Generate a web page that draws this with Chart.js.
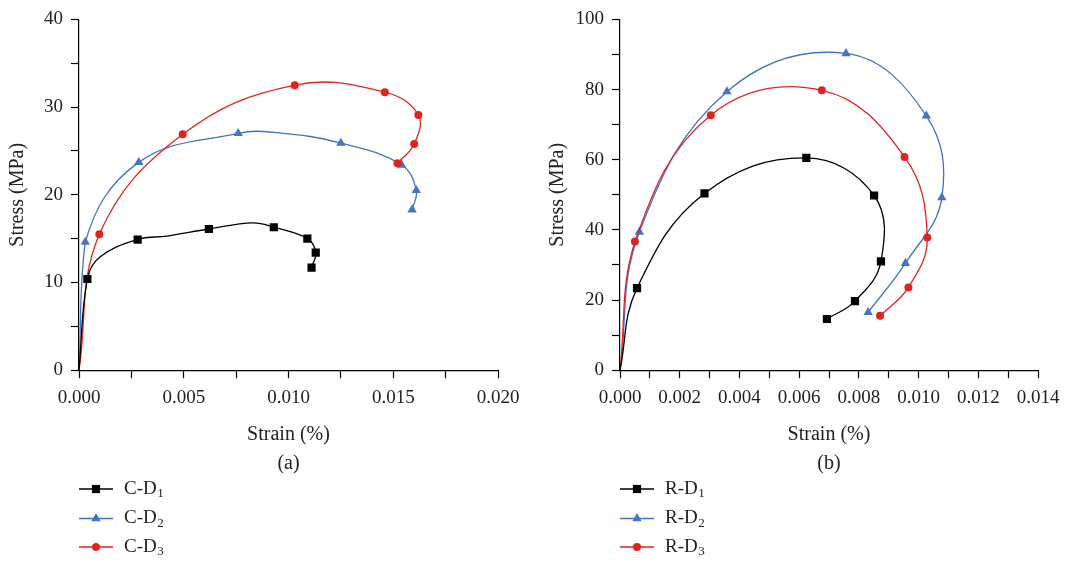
<!DOCTYPE html>
<html>
<head>
<meta charset="utf-8">
<script src="https://cdn.jsdelivr.net/npm/chart.js@4.4.1/dist/chart.umd.min.js"></script>
<style>
  body { margin: 0; background: #fff; }
  .panel { position: absolute; top: 0; height: 562px; }
  #wrapA { left: 0; width: 540px; }
  #wrapB { left: 540px; width: 543px; }
</style>
</head>
<body>
<div class="panel" id="wrapA"><canvas id="chartA"></canvas></div>
<div class="panel" id="wrapB"><canvas id="chartB"></canvas></div>
<script>
// ---- DATA (a) ----
const cd1Strain = [0, 0.0004, 0.001, 0.0028, 0.0042, 0.0062, 0.0083, 0.0093, 0.0109, 0.0113, 0.0111];
const cd1Stress = [0, 10.4, 12.9, 14.9, 15.3, 16.1, 16.8, 16.3, 15.0, 13.4, 11.7];
const cd1Unmarked = [0, 2, 4, 6];

const cd2Strain = [0, 0.0003, 0.00285, 0.0076, 0.0094, 0.0125, 0.0154, 0.0161, 0.0159];
const cd2Stress = [0, 14.6, 23.7, 27.0, 27.1, 25.9, 23.4, 20.5, 18.3];
const cd2Unmarked = [0, 4];

const cd3Strain = [0, 0.00097, 0.00495, 0.0103, 0.0146, 0.0162, 0.0160, 0.0152];
const cd3Stress = [0, 15.5, 26.9, 32.5, 31.7, 29.1, 25.8, 23.6];
const cd3Unmarked = [0];

// ---- DATA (b) ----
const rd1Strain = [0, 0.00057, 0.00283, 0.00624, 0.00851, 0.00874, 0.00787, 0.00693];
const rd1Stress = [0, 23.4, 50.4, 60.5, 49.8, 31.0, 19.7, 14.6];
const rd1Unmarked = [0];

const rd2Strain = [0, 0.00065, 0.00358, 0.00757, 0.01026, 0.01078, 0.00956, 0.00831];
const rd2Stress = [0, 39.4, 79.4, 90.3, 72.5, 49.2, 30.5, 16.5];
const rd2Unmarked = [0];

const rd3Strain = [0, 0.0005, 0.00304, 0.00676, 0.00953, 0.01029, 0.00966, 0.00871];
const rd3Stress = [0, 36.7, 72.7, 79.8, 60.8, 37.8, 23.6, 15.5];
const rd3Unmarked = [0];

const namesA = ['C-D1', 'C-D2', 'C-D3'];
const namesB = ['R-D1', 'R-D2', 'R-D3'];

const xTicksA = { max: 0.02, step: 0.0025, labelEvery: 0.005 };
const yTicksA = { max: 40, step: 5, labelEvery: 10 };
const xTicksB = { max: 0.014, step: 0.001, labelEvery: 0.002 };
const yTicksB = { max: 100, step: 10, labelEvery: 20 };

// ---- STYLE ----
const FONT = '"Liberation Serif", "DejaVu Serif", serif';
const BLACK = '#000000';
const BLUE = '#4472C4';
const RED = '#E2231D';
const SIZES = { rect: 5.8, triangle: 5.4, circle: 4 };

function pts(xs, ys) {
    return xs.map((x, i) => ({ x: x, y: ys[i] }));
}

function series(label, xs, ys, unmarked, color, style, order) {
    return {
        label: label,
        data: pts(xs, ys),
        borderColor: color,
        backgroundColor: color,
        borderWidth: 1.3,
        showLine: true,
        tension: 0.4,
        pointStyle: style,
        pointRadius: ctx => unmarked.includes(ctx.dataIndex) ? 0 : SIZES[style],
        pointBorderWidth: 0,
        order: order
    };
}

function isMultiple(v, step) {
    const r = v / step;
    return Math.abs(r - Math.round(r)) < 1e-6;
}

// legend drawn under the plot, one item per line, with subscript digit
const stackedLegend = {
    id: 'stackedLegend',
    afterDraw(chart) {
        const c = chart.ctx;
        const left = chart.chartArea.left;
        const rows = [489, 518.5, 547];
        chart.data.datasets.forEach((ds, i) => {
            const y = rows[i];
            c.save();
            c.strokeStyle = ds.borderColor;
            c.lineWidth = 1.3;
            c.beginPath();
            c.moveTo(left, y);
            c.lineTo(left + 34, y);
            c.stroke();
            c.fillStyle = ds.backgroundColor;
            Chart.helpers.drawPoint(c, {
                pointStyle: ds.pointStyle,
                radius: SIZES[ds.pointStyle],
                borderWidth: 0
            }, left + 17, y);
            const main = ds.label.slice(0, -1);
            const sub = ds.label.slice(-1);
            c.fillStyle = '#222';
            c.textBaseline = 'middle';
            c.textAlign = 'left';
            c.font = '19px ' + FONT;
            c.fillText(main, left + 45, y);
            const w = c.measureText(main).width;
            c.font = '13px ' + FONT;
            c.fillText(sub, left + 45 + w + 0.5, y + 5);
            c.restore();
        });
    }
};

function makeChart(id, datasets, xt, yt, yAxisWidth, rightPad, caption) {
    return new Chart(document.getElementById(id), {
        type: 'scatter',
        data: { datasets: datasets },
        plugins: [stackedLegend],
        options: {
            responsive: true,
            maintainAspectRatio: false,
            animation: false,
            layout: { padding: { top: 0, right: rightPad, bottom: 84, left: 0 } },
            plugins: {
                legend: { display: false },
                tooltip: { enabled: false }
            },
            scales: {
                x: {
                    type: 'linear',
                    min: 0,
                    max: xt.max,
                    border: { display: true, color: BLACK, width: 1.2 },
                    grid: { display: true, drawOnChartArea: false, drawTicks: true, tickLength: 8, color: BLACK, tickWidth: 1.2 },
                    ticks: {
                        stepSize: xt.step,
                        autoSkip: false,
                        maxRotation: 0,
                        padding: 8,
                        color: '#222',
                        font: { family: FONT, size: 19 },
                        callback: v => isMultiple(v, xt.labelEvery) ? v.toFixed(3) : ''
                    },
                    title: {
                        display: true,
                        text: ['Strain (%)', caption],
                        color: '#222',
                        font: { family: FONT, size: 20, lineHeight: 1.45 },
                        padding: { top: 3, bottom: 0 }
                    }
                },
                y: {
                    type: 'linear',
                    min: 0,
                    max: yt.max,
                    afterFit: s => { s.width = yAxisWidth; },
                    border: { display: true, color: BLACK, width: 1.2 },
                    grid: { display: true, drawOnChartArea: false, drawTicks: true, tickLength: 8, color: BLACK, tickWidth: 1.2 },
                    ticks: {
                        stepSize: yt.step,
                        autoSkip: false,
                        padding: 8,
                        color: '#222',
                        font: { family: FONT, size: 19 },
                        callback: v => isMultiple(v, yt.labelEvery) ? String(v) : ''
                    },
                    title: {
                        display: true,
                        text: 'Stress (MPa)',
                        color: '#222',
                        font: { family: FONT, size: 20, lineHeight: 1.2 },
                        padding: { top: 6, bottom: 0 }
                    }
                }
            }
        }
    });
}

makeChart('chartA', [
    series(namesA[0], cd1Strain, cd1Stress, cd1Unmarked, BLACK, 'rect', 0),
    series(namesA[1], cd2Strain, cd2Stress, cd2Unmarked, BLUE, 'triangle', 2),
    series(namesA[2], cd3Strain, cd3Stress, cd3Unmarked, RED, 'circle', 1)
], xTicksA, yTicksA, 79, 42, '(a)');

makeChart('chartB', [
    series(namesB[0], rd1Strain, rd1Stress, rd1Unmarked, BLACK, 'rect', 0),
    series(namesB[1], rd2Strain, rd2Stress, rd2Unmarked, BLUE, 'triangle', 2),
    series(namesB[2], rd3Strain, rd3Stress, rd3Unmarked, RED, 'circle', 1)
], xTicksB, yTicksB, 80, 45, '(b)');
</script>
</body>
</html>
